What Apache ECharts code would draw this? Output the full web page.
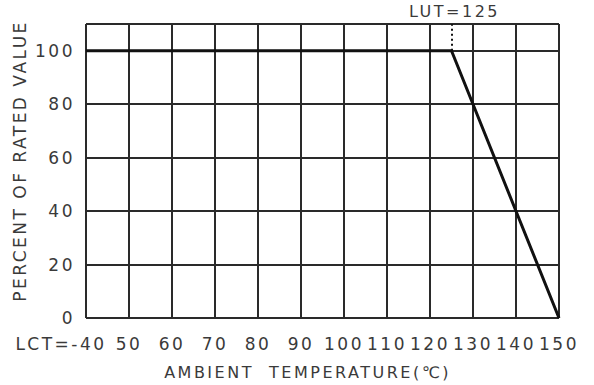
<!DOCTYPE html>
<html><head><meta charset="utf-8">
<script src="https://cdn.jsdelivr.net/npm/echarts@6/dist/echarts.min.js"></script>
<style>html,body{margin:0;padding:0;background:#fff}#c{width:594px;height:385px}#c text{letter-spacing:2.5px}</style>
</head><body><div id="c"></div>
<script>
// temperature positions: first tick is LCT=-40 drawn at the 40 slot
var xTicks = [40, 50, 60, 70, 80, 90, 100, 110, 120, 130, 140, 150];
var xTickLabels = ['LCT=-40', '50', '60', '70', '80', '90', '100', '110', '120', '130', '140', '150'];
var yTickLabels = [0, 20, 40, 60, 80, 100];
var deratingX = [40, 125, 150];
var deratingY = [100, 100, 0];
var lutX = 125;
var lutLabel = 'LUT=125';

var font = 'DejaVu Sans';
var txt = '#3a3a3a';
var fs = 17;
var chart = echarts.init(document.getElementById('c'), null, {renderer: 'svg'});
chart.setOption({
  animation: false,
  grid: {left: 86, right: 35, top: 24, bottom: 67},
  xAxis: {
    type: 'value', min: 40, max: 150, interval: 10,
    axisLine: {show: false}, axisTick: {show: false},
    splitLine: {show: true, lineStyle: {color: '#2a2a2a', width: 2}},
    axisLabel: {
      color: txt, fontFamily: font, fontSize: fs, margin: 17,
      formatter: function (v) {
        var i = xTicks.indexOf(v);
        if (i === 0) return '{a|' + xTickLabels[0] + '}';
        return i >= 0 ? xTickLabels[i] : '';
      },
      rich: {a: {color: txt, fontFamily: font, fontSize: fs, padding: [0, 50, 0, 0]}}
    },
    name: 'AMBIENT  TEMPERATURE(℃)', nameLocation: 'middle', nameGap: 46,
    nameTextStyle: {color: txt, fontFamily: font, fontSize: 16, padding: [0, 30, 0, 0]}
  },
  yAxis: {
    type: 'value', min: 0, max: 110, interval: 20,
    axisLine: {show: false}, axisTick: {show: false},
    splitLine: {show: true, lineStyle: {color: '#2a2a2a', width: 2}},
    axisLabel: {
      color: txt, fontFamily: font, fontSize: fs, margin: 11,
      formatter: function (v) { return yTickLabels.indexOf(v) >= 0 ? String(v) : ''; }
    },
    name: 'PERCENT OF RATED VALUE', nameLocation: 'middle', nameGap: 58,
    nameTextStyle: {color: txt, fontFamily: font, fontSize: 17, padding: [0, 0, 0, 20]}
  },
  series: [{
    type: 'line', symbol: 'none',
    data: deratingX.map(function (x, i) { return [x, deratingY[i]]; }),
    lineStyle: {color: '#111', width: 3},
    z: 5,
    markLine: {
      silent: true, symbol: 'none',
      lineStyle: {color: '#111', type: [2, 3], width: 2},
      label: {show: true, position: 'end', formatter: lutLabel, color: txt, fontFamily: font, fontSize: 16, distance: 5, padding: [0, 0, 0, 6]},
      data: [[{coord: [lutX, deratingY[0]]}, {coord: [lutX, 110]}]]
    }
  }, {
    type: 'line', symbol: 'none', silent: true,
    data: [[40, 110], [150, 110]],
    lineStyle: {color: '#2a2a2a', width: 2}
  }]
});
</script></body></html>
